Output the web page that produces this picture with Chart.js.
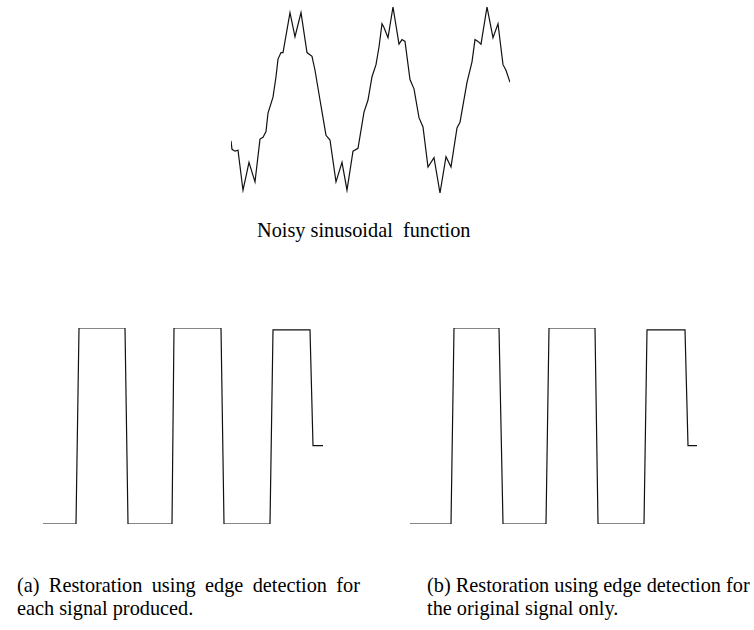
<!DOCTYPE html>
<html>
<head>
<meta charset="utf-8">
<script src="https://cdn.jsdelivr.net/npm/chart.js@4.4.0/dist/chart.umd.min.js"></script>
<style>
  body { margin: 0; background: #fff; width: 754px; height: 630px; position: relative; overflow: hidden; }
  canvas { position: absolute; }
  .cap { position: absolute; font-family: "Liberation Serif", "Times New Roman", serif; font-size: 20.3px; color: #000; line-height: 23px; white-space: nowrap; }
  .just { display: block; text-align: justify; text-align-last: justify; white-space: normal; }
</style>
</head>
<body>
<canvas id="noisy" width="285" height="192" style="left:228px; top:4px;"></canvas>
<canvas id="restA" width="286" height="202" style="left:40px; top:325px;"></canvas>
<canvas id="restB" width="293" height="202" style="left:407px; top:325px;"></canvas>

<div class="cap" style="left:257px; top:219px;">Noisy sinusoidal&nbsp; function</div>
<div class="cap" style="left:17px; top:574px; width:343px;">
  <span class="just">(a) Restoration using edge detection for</span>
  <span>each signal produced.</span>
</div>
<div class="cap" style="left:427px; top:574px;">
  <span style="display:block">(b) Restoration using edge detection for</span>
  <span>the original signal only.</span>
</div>

<script>
// noisy input signal (time, amplitude)
const noisyT = [0.0, 0.1, 0.4, 0.7, 1.2, 1.8, 2.4, 2.9, 3.2, 3.5, 3.7, 4.2, 4.5, 4.7, 5.0, 5.2,
  5.9, 6.4, 7.0, 7.6, 8.1, 8.4, 8.9, 9.2, 9.5, 9.9, 10.5, 11.1, 11.6, 12.2, 12.7, 13.3,
  13.7, 14.1, 14.5, 14.8, 15.1, 15.3, 15.7, 16.2, 16.8, 17.1, 17.4, 17.9, 18.3, 18.8,
  19.2, 19.7, 20.3, 20.9, 21.5, 22.0, 22.6, 22.9, 23.6, 24.1, 24.4, 24.7, 25.0, 25.6,
  26.2, 26.7, 27.2, 27.5, 27.9];
const noisyY = [-0.44, -0.53, -0.55, -0.54, -0.97, -0.67, -0.88, -0.42, -0.40, -0.34, -0.14, 0.03, 0.25, 0.44, 0.51, 0.51,
  0.94, 0.68, 0.94, 0.51, 0.47, 0.32, 0.00, -0.19, -0.38, -0.43, -0.88, -0.67, -0.97, -0.55, -0.52, -0.13,
  0.00, 0.25, 0.38, 0.57, 0.82, 0.78, 0.67, 1.00, 0.60, 0.65, 0.63, 0.22, 0.12, -0.19,
  -0.29, -0.72, -0.62, -1.00, -0.61, -0.72, -0.30, -0.24, 0.19, 0.41, 0.65, 0.63, 0.60, 1.00,
  0.67, 0.82, 0.38, 0.32, 0.19];

// (a) restored, edge detection per produced signal
const restAT = [0, 3.3, 3.6, 8.2, 8.5, 12.9, 13.1, 17.8, 18.1, 22.7, 23.0, 26.7, 27.0, 28.0];
const restAY = [0, 0, 1, 1, 0, 0, 1, 1, 0, 0, 0.99, 0.99, 0.40, 0.40];

// (b) restored, edge detection on the original signal only
const restBT = [0, 4.1, 4.4, 8.9, 9.3, 13.6, 13.9, 18.5, 18.8, 23.4, 23.7, 27.5, 27.8, 28.7];
const restBY = [0, 0, 1, 1, 0, 0, 1, 1, 0, 0, 0.99, 0.99, 0.40, 0.40];

function toPoints(xs, ys) {
  return xs.map((x, i) => ({ x: x, y: ys[i] }));
}

function drawSignal(id, xs, ys, xMax, yMin, yMax) {
  const ctx = document.getElementById(id).getContext('2d');
  return new Chart(ctx, {
    type: 'line',
    data: {
      datasets: [{
        data: toPoints(xs, ys),
        borderColor: '#111',
        borderWidth: 1.2,
        pointRadius: 0,
        tension: 0,
        fill: false
      }]
    },
    options: {
      responsive: false,
      animation: false,
      events: [],
      layout: { padding: 3 },
      plugins: { legend: { display: false }, tooltip: { enabled: false } },
      scales: {
        x: { type: 'linear', display: false, min: 0, max: xMax },
        y: { display: false, min: yMin, max: yMax }
      }
    }
  });
}

drawSignal('noisy', noisyT, noisyY, 27.9, -1, 1);
drawSignal('restA', restAT, restAY, 28.0, 0, 1);
drawSignal('restB', restBT, restBY, 28.7, 0, 1);
</script>
</body>
</html>
